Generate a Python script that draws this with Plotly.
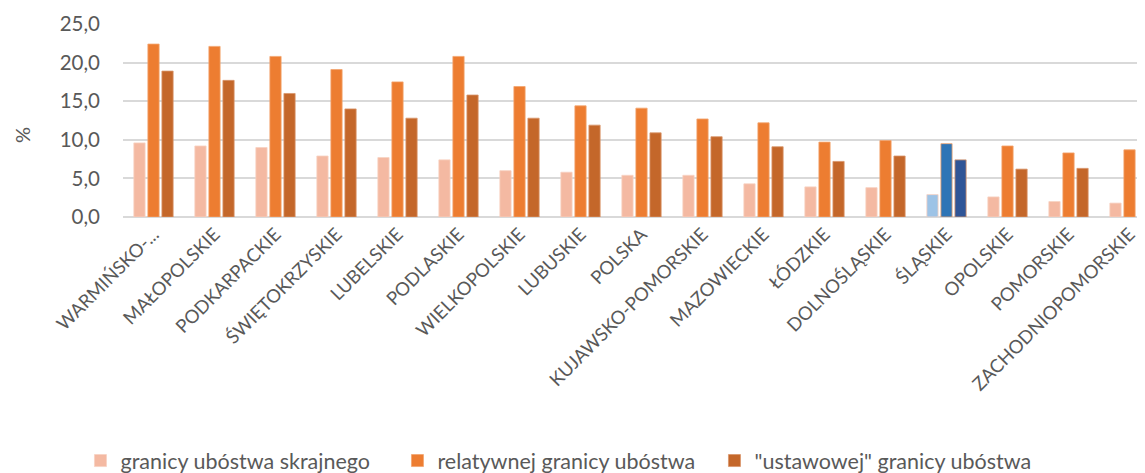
import plotly.graph_objects as go

categories = ["WARMIŃSKO-...", "MAŁOPOLSKIE", "PODKARPACKIE", "ŚWIĘTOKRZYSKIE", "LUBELSKIE",
              "PODLASKIE", "WIELKOPOLSKIE", "LUBUSKIE", "POLSKA", "KUJAWSKO-POMORSKIE",
              "MAZOWIECKIE", "ŁÓDZKIE", "DOLNOŚLĄSKIE", "ŚLĄSKIE", "OPOLSKIE", "POMORSKIE",
              "ZACHODNIOPOMORSKIE"]
skrajne = [9.6, 9.2, 9.0, 7.9, 7.7, 7.4, 6.0, 5.8, 5.4, 5.4, 4.3, 3.9, 3.8, 2.9, 2.6, 2.0, 1.8]
relatywne = [22.4, 22.1, 20.8, 19.1, 17.5, 20.8, 16.9, 14.4, 14.1, 12.7, 12.2, 9.7, 9.9, 9.5, 9.2, 8.3, 8.7]
ustawowe = [18.9, 17.7, 16.0, 14.0, 12.8, 15.8, 12.8, 11.9, 10.9, 10.4, 9.1, 7.2, 7.9, 7.4, 6.2, 6.3, 5.3]
series_names = ["granicy ubóstwa skrajnego", "relatywnej granicy ubóstwa", "\"ustawowej\" granicy ubóstwa"]
highlight = "ŚLĄSKIE"
y_title = "%"

base_colors = ["#F4B9A2", "#ED7D31", "#C4672A"]
hi_colors = ["#9DC3E6", "#2E75B6", "#2F5597"]
edge_colors = ["#F8D2C2", "#F3A46F", "#D9956B"]

fig = go.Figure()
for i, (name, vals) in enumerate(zip(series_names, [skrajne, relatywne, ustawowe])):
    cols = [hi_colors[i] if c == highlight else base_colors[i] for c in categories]
    fig.add_trace(go.Bar(
        x=categories, y=vals, name=name,
        marker=dict(color=cols, line=dict(color=edge_colors[i], width=0.8)),
    ))

FONT = "Lato"
GREY = "#595959"
fig.update_layout(
    width=1145, height=465,
    margin=dict(l=115, r=0, t=16, b=256, autoexpand=False),
    paper_bgcolor="white", plot_bgcolor="white",
    separators=", ",
    barmode="group", bargap=0.31, bargroupgap=0.2,
    font=dict(family=FONT, color=GREY, size=20),
    showlegend=True,
    legend=dict(orientation="h", x=-0.0413, xanchor="left", y=-1.262, yanchor="middle",
                font=dict(size=21.5, color=GREY, family=FONT),
                entrywidth=272, entrywidthmode="pixels", itemwidth=30,
                traceorder="normal"),
    xaxis=dict(range=[-0.5, 16.385], tickangle=-45, showgrid=False, showline=False,
               automargin=False, ticks="", ticklabelstandoff=2,
               tickfont=dict(size=18.5, color=GREY, family=FONT)),
    yaxis=dict(range=[0, 25], dtick=5, tickformat=".1f", showgrid=True, automargin=False,
               gridcolor="#D9D9D9", gridwidth=1.5, zeroline=True, zerolinecolor="#D9D9D9",
               zerolinewidth=1.5, ticks="", ticklabelstandoff=22,
               tickfont=dict(size=20.5, color=GREY, family=FONT)),
    annotations=[dict(text=y_title, textangle=-90, xref="paper", yref="paper",
                      x=-0.098, y=0.425, xanchor="center", yanchor="middle",
                      showarrow=False, font=dict(size=20, color=GREY, family=FONT))],
)

fig.write_html("out.html")
